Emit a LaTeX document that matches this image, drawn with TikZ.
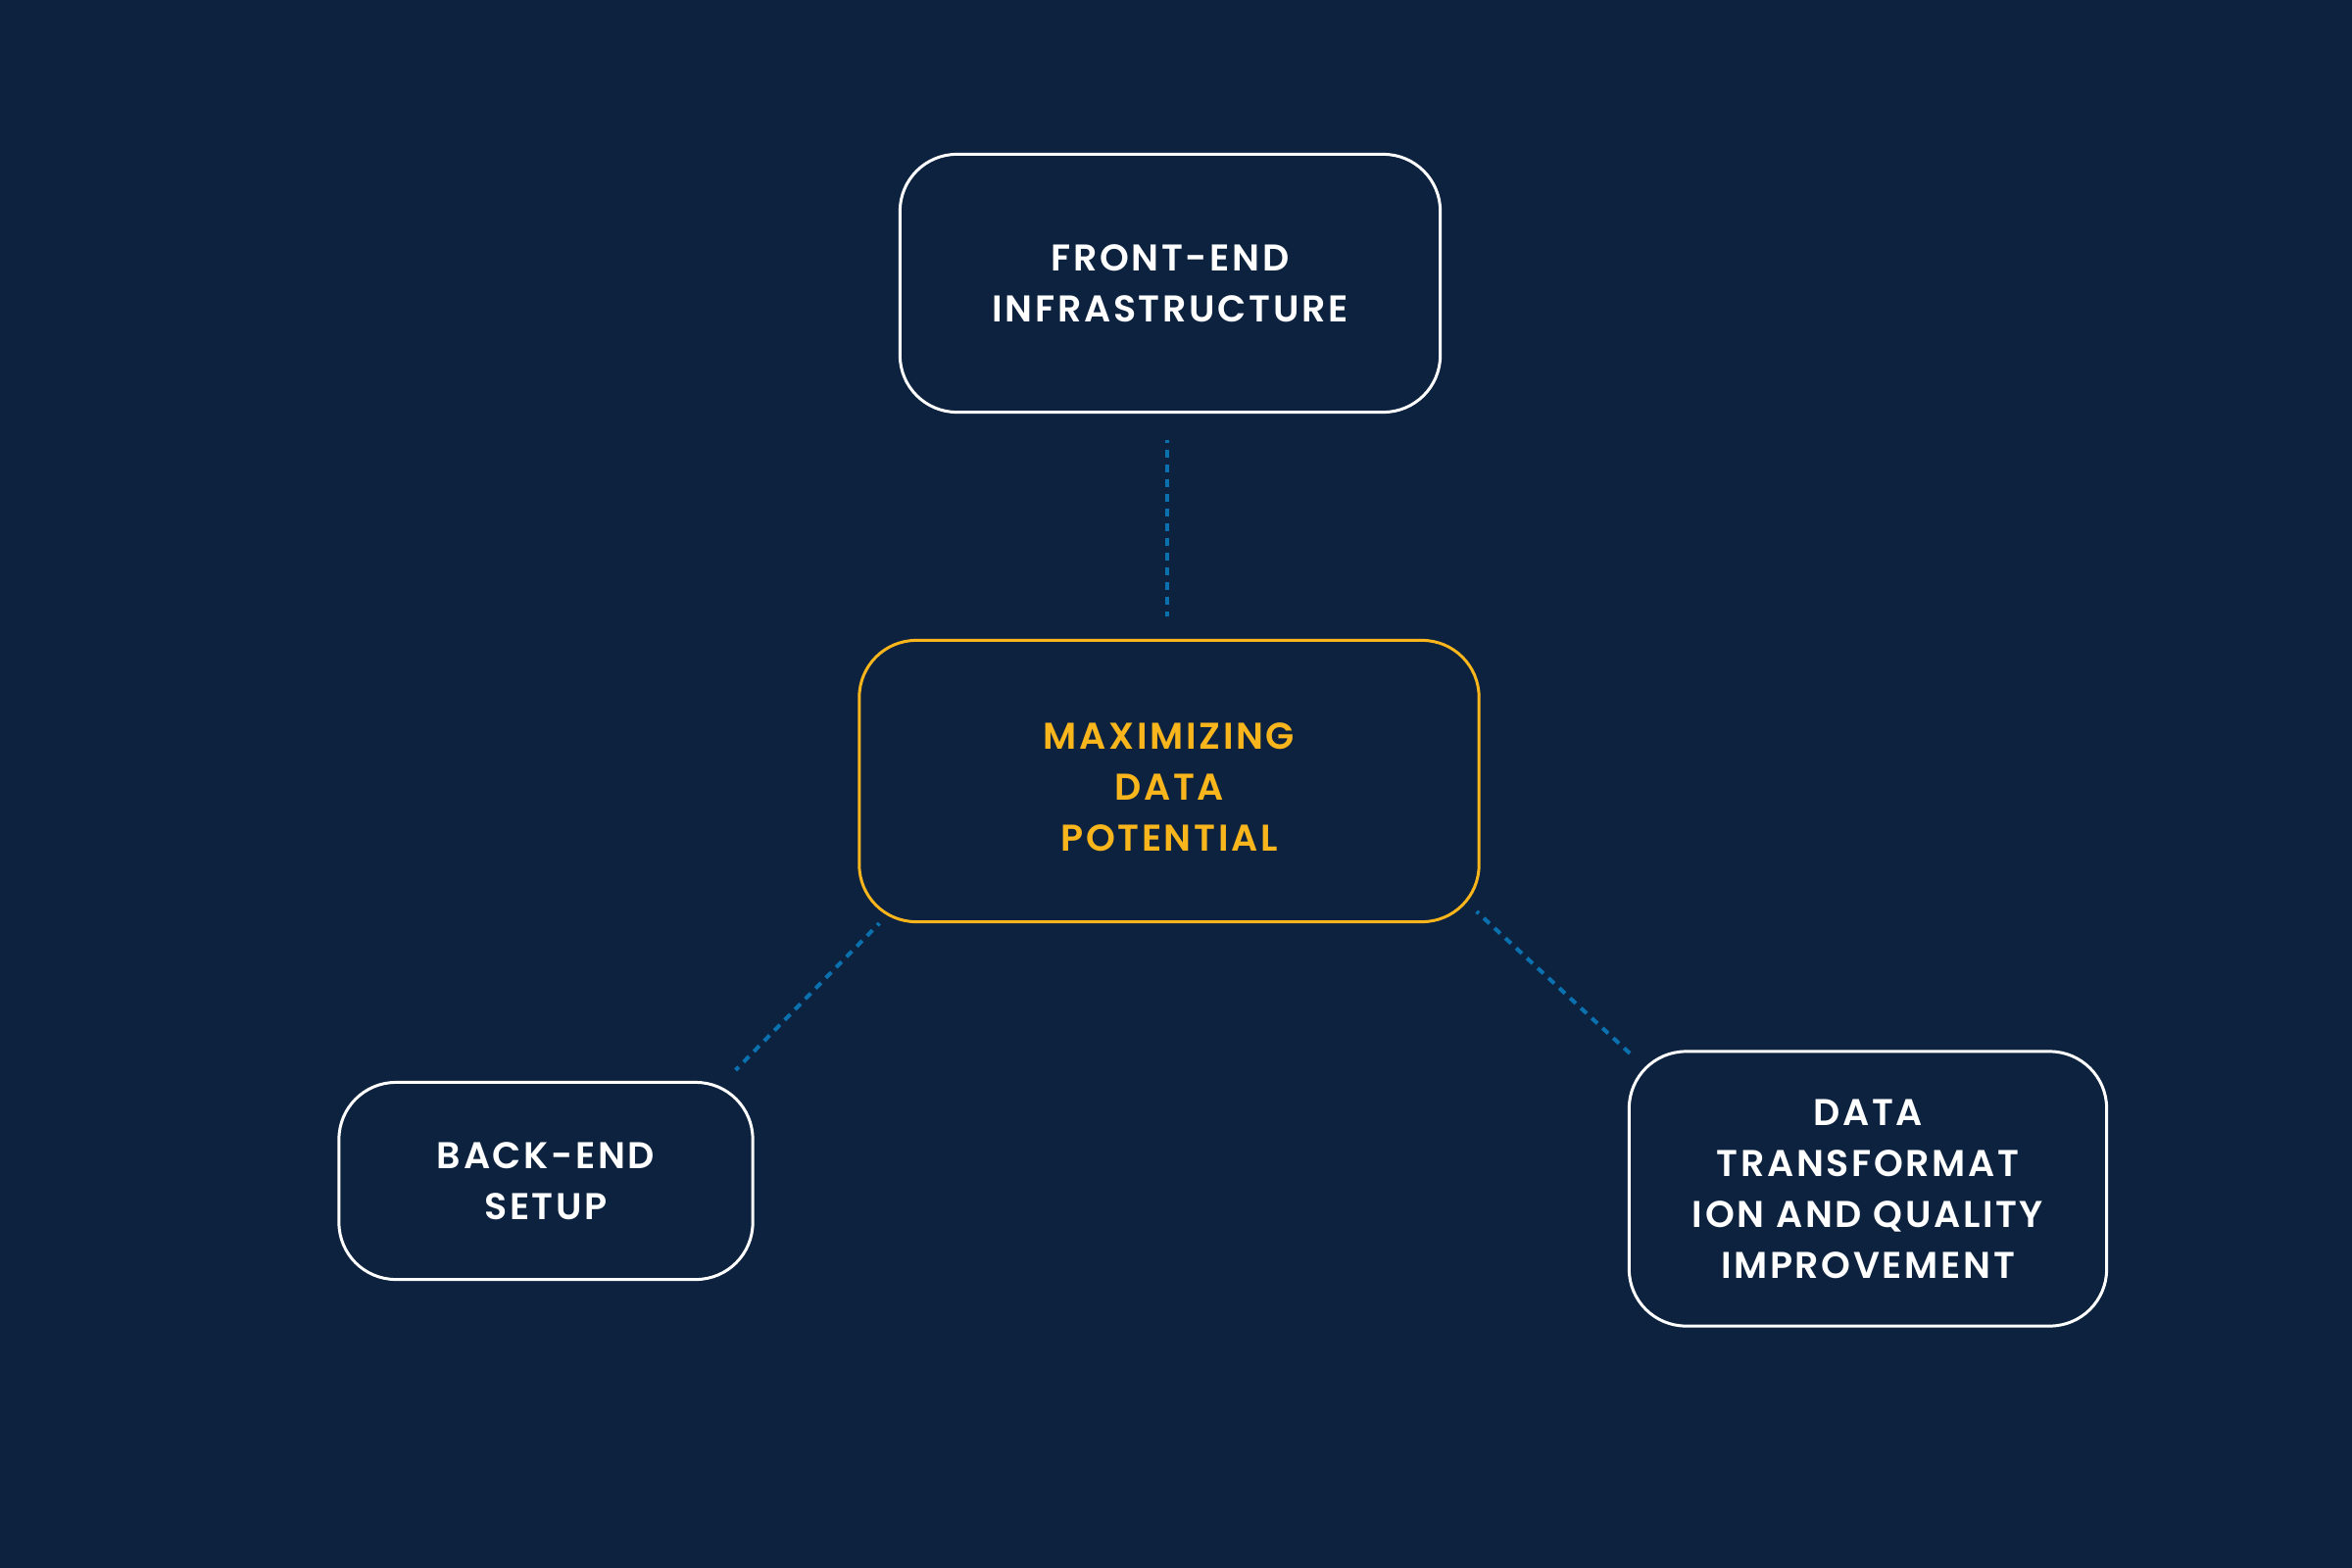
\documentclass[tikz,border=0pt]{standalone}
\usepackage{fontspec}
\setmainfont{Poppins}[BoldFont={Poppins SemiBold},LetterSpace=7]
\usetikzlibrary{calc}
\definecolor{bgc}{HTML}{0D223F}
\definecolor{gold}{HTML}{F9B51C}
\definecolor{dashblue}{HTML}{0B70AE}
\begin{document}
\begin{tikzpicture}[x=0.01cm,y=-0.01cm,
  box/.style={draw=white,line width=0.85pt,rounded corners=0.58cm,inner sep=0pt,
    align=center,text=white,font=\fontsize{10.8pt}{14.8pt}\selectfont\bfseries},
  mainbox/.style={box,draw=gold,text=gold},
  conn/.style={draw=dashblue,line width=1.15pt,dash pattern=on 0.08cm off 0.07cm,dash phase=0.05cm}]
\fill[bgc] (0,0) rectangle (2400,1600);
\useasboundingbox (0,0) rectangle (2400,1600);
\node[box,minimum width=5.51cm,minimum height=2.63cm] (top) at (1194,289) {FRONT-END\\INFRASTRUCTURE};
\node[mainbox,minimum width=6.32cm,minimum height=2.87cm] (mid) at (1193,797) {\raisebox{0pt}[\dimexpr\height+0.18cm\relax]{\begin{tabular}{@{}c@{}}MAXIMIZING\\DATA\\POTENTIAL\end{tabular}}};
\node[box,minimum width=4.22cm,minimum height=2.01cm] (back) at (557,1205) {BACK-END\\SETUP};
\node[box,minimum width=4.87cm,minimum height=2.80cm] (data) at (1906,1213) {DATA\\TRANSFORMAT\\ION AND QUALITY\\IMPROVEMENT};
\draw[conn] ($(top.south)+(-3,27)$) -- ($(mid.north)+(-2,-23)$);
\draw[conn] ($(mid.south west)+(22,0)$) -- ($(back.north east)+(-19,-11)$);
\draw[conn] ($(mid.south east)+(-4,-12)$) -- ($(data.north west)+(5,6)$);
\end{tikzpicture}
\end{document}
